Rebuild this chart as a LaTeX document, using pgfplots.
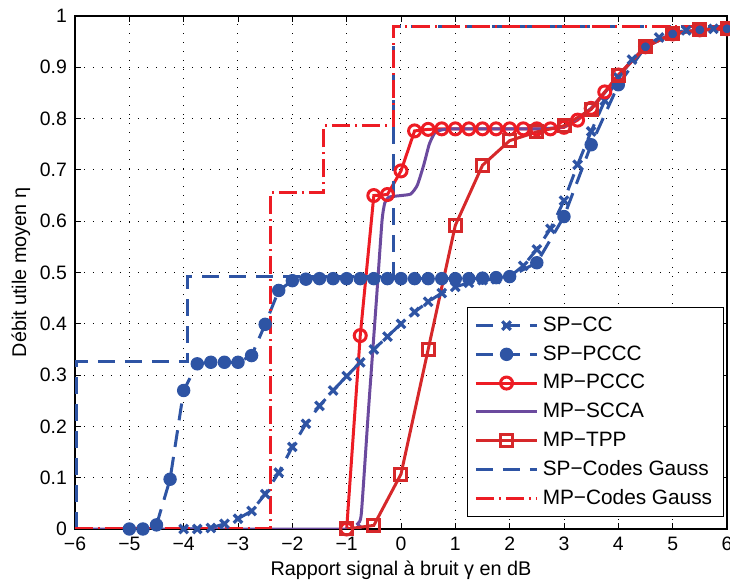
\documentclass[border=0pt]{standalone}
\usepackage{fontspec}
\setmainfont{Liberation Sans}
\usepackage{pgfplots}
\pgfplotsset{compat=1.18}
\definecolor{cblue}{RGB}{46,84,164}
\definecolor{cred}{RGB}{237,28,36}
\definecolor{ctpp}{RGB}{214,40,42}
\definecolor{cpurp}{RGB}{107,74,158}
\begin{document}
\begin{tikzpicture}
\begin{axis}[
  name=ax,
  scale only axis,
  width=326pt, height=256.5pt,
  xmin=-6, xmax=6, ymin=0, ymax=1,
  xtick={-6,-5,...,6},
  xticklabels={−6,−5,−4,−3,−2,−1,0,1,2,3,4,5,6},
  ytick={0,0.1,...,1},
  yticklabels={0,0.1,0.2,0.3,0.4,0.5,0.6,0.7,0.8,0.9,1},
  tick align=inside,
  major tick length=3pt,
  tick style={black, line width=0.4pt},
  axis line style={black, line width=0.6pt},
  grid=major,
  major grid style={black, line width=0.5pt, dash pattern=on 0.5pt off 4pt},
  /pgf/number format/assume math mode=true,
  ticklabel style={font=\fontsize{9.7}{11}\selectfont},
  xticklabel style={yshift=-0.5pt},
  yticklabel style={xshift=-0.5pt},
  xlabel={Rapport signal à bruit γ en dB},
  ylabel={Débit utile moyen η},
  every axis x label/.style={at={(rel axis cs:0.5,0)}, anchor=center, yshift=-20.5pt, font=\fontsize{9.9}{11}\selectfont},
  every axis y label/.style={at={(rel axis cs:0,0.5)}, rotate=90, anchor=center, yshift=27pt, font=\fontsize{9.9}{11}\selectfont},
  legend style={at={(axis cs:5.94,0.023)}, anchor=south east,
    font=\fontsize{10.4}{12}\selectfont, draw=black, line width=0.6pt,
    row sep=1.6pt, inner xsep=3.5pt, inner ysep=2.5pt, fill=white},
  legend cell align=left,
  legend image code/.code={\draw[mark repeat=2,mark phase=2] plot coordinates {(0cm,0cm) (0.54cm,0cm) (1.08cm,0cm)};},
]
% SP-CC
\addplot[cblue, line width=1.5pt, dash pattern=on 8.5pt off 5pt, mark=x, mark size=3pt, mark options={solid, line width=1.6pt}] coordinates {
(-4,0) (-3.75,0) (-3.5,0.002) (-3.25,0.01) (-3,0.02) (-2.75,0.035) (-2.5,0.068) (-2.25,0.11)
(-2,0.16) (-1.75,0.205) (-1.5,0.24) (-1.25,0.27) (-1,0.298) (-0.75,0.325) (-0.5,0.35) (-0.25,0.375)
(0,0.4) (0.25,0.423) (0.5,0.443) (0.75,0.46) (1,0.472) (1.25,0.48) (1.5,0.485) (1.75,0.487)
(2,0.492) (2.25,0.513) (2.5,0.545) (2.75,0.585) (3,0.64) (3.25,0.71) (3.5,0.775) (3.75,0.835)
(4,0.88) (4.25,0.915) (4.5,0.94) (4.75,0.958) (5,0.967) (5.25,0.972) (5.5,0.974) (5.75,0.975) (6,0.975)};
\addlegendentry{SP−CC}
% SP-PCCC
\addplot[cblue, line width=1.5pt, dash pattern=on 8.5pt off 5pt, mark=*, mark size=3.1pt, mark options={solid, line width=0.5pt}] coordinates {
(-5,0) (-4.75,0) (-4.5,0.008) (-4.25,0.097) (-4,0.27) (-3.75,0.322) (-3.5,0.325) (-3.25,0.325)
(-3,0.325) (-2.75,0.338) (-2.5,0.399) (-2.25,0.465) (-2,0.484) (-1.75,0.487) (-1.5,0.488) (-1.25,0.488)
(-1,0.488) (-0.75,0.488) (-0.5,0.488) (-0.25,0.488) (0,0.488) (0.25,0.488) (0.5,0.488) (0.75,0.488)
(1,0.488) (1.25,0.488) (1.5,0.489) (1.75,0.49) (2,0.492) (2.5,0.519) (3,0.609) (3.5,0.749)
(4,0.866) (4.5,0.94) (5,0.965) (5.5,0.973) (6,0.975)};
\addlegendentry{SP−PCCC}
% MP-PCCC
\addplot[cred, line width=1.5pt, mark=o, mark size=3pt, mark options={solid, line width=1.5pt}] coordinates {
(-1,0) (-0.75,0.377) (-0.5,0.65) (-0.25,0.652) (0,0.698) (0.25,0.776) (0.5,0.779) (0.75,0.78)
(1,0.78) (1.25,0.78) (1.5,0.78) (1.75,0.78) (2,0.78) (2.25,0.78) (2.5,0.78) (2.75,0.78)
(3,0.783) (3.25,0.797) (3.5,0.82) (3.75,0.852) (4,0.885) (4.5,0.94) (5,0.965) (5.5,0.973) (6,0.975)};
\addlegendentry{MP−PCCC}
% MP-SCCA
\addplot[cpurp, line width=1.5pt, smooth, tension=0.3] coordinates {
(-6,0) (-1,0) (-0.8,0.01) (-0.73,0.03) (-0.6,0.23) (-0.45,0.45) (-0.35,0.6) (-0.3,0.635)
(-0.22,0.647) (0,0.65) (0.18,0.653) (0.3,0.67) (0.42,0.71) (0.52,0.75) (0.62,0.772) (0.75,0.778)
(1,0.78) (2.5,0.78) (3,0.785) (3.5,0.82) (4,0.882) (4.5,0.94) (5,0.965) (5.5,0.973) (6,0.975)};
\addlegendentry{MP−SCCA}
% MP-TPP
\addplot[ctpp, line width=1.5pt, mark=square, mark size=3pt, mark options={solid, line width=1.5pt}] coordinates {
(-1,0) (-0.5,0.007) (0,0.107) (0.5,0.35) (1,0.592) (1.5,0.709) (2,0.757) (2.5,0.774)
(3,0.786) (3.5,0.818) (4,0.884) (4.5,0.94) (5,0.965) (5.5,0.973) (6,0.975)};
\addlegendentry{MP−TPP}
% SP-Codes Gauss
\addplot[cblue, line width=1.5pt, dash pattern=on 8.5pt off 5pt] coordinates {
(-5.97,0) (-5.97,0.327) (-3.93,0.327) (-3.93,0.492) (-0.14,0.492) (-0.14,0.98) (6,0.98)};
\addlegendentry{SP−Codes Gauss}
% MP-Codes Gauss
\addplot[cred, line width=1.5pt, dash pattern=on 9pt off 2.5pt on 1pt off 2.5pt] coordinates {
(-6,0) (-2.41,0) (-2.41,0.655) (-1.43,0.655) (-1.43,0.786) (-0.13,0.786) (-0.13,0.98) (6,0.98)};
\addlegendentry{MP−Codes Gauss}
\end{axis}
\pgfresetboundingbox
\path ([shift={(-37.5pt,-27.5pt)}]ax.south west) rectangle ([shift={(1.5pt,8pt)}]ax.north east);
\end{tikzpicture}
\end{document}
